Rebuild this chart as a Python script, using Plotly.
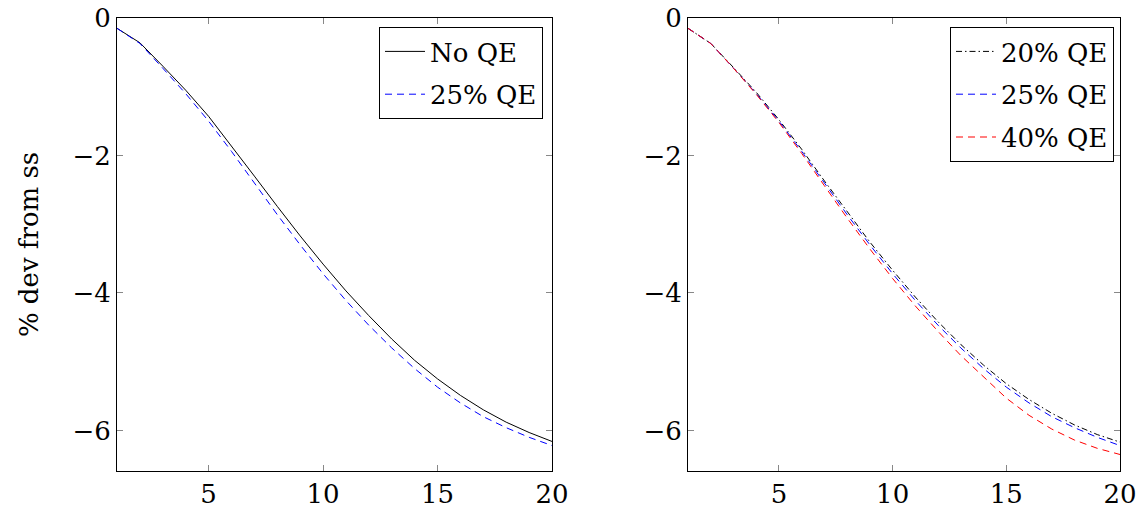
import plotly.graph_objects as go

periods = list(range(1, 21))

no_qe = [-0.15, -0.36, -0.70, -1.05, -1.43, -1.86, -2.30, -2.74, -3.17, -3.58,
         -3.97, -4.33, -4.67, -4.98, -5.25, -5.49, -5.70, -5.88, -6.03, -6.16]
qe25 = [-0.15, -0.37, -0.73, -1.10, -1.50, -1.94, -2.40, -2.86, -3.30, -3.72,
        -4.11, -4.47, -4.80, -5.10, -5.37, -5.60, -5.80, -5.96, -6.10, -6.22]
qe20 = [-0.15, -0.37, -0.72, -1.08, -1.48, -1.91, -2.37, -2.82, -3.26, -3.67,
        -4.06, -4.42, -4.75, -5.05, -5.32, -5.55, -5.75, -5.92, -6.06, -6.17]
qe40 = [-0.15, -0.37, -0.73, -1.11, -1.52, -1.97, -2.44, -2.91, -3.36, -3.79,
        -4.19, -4.56, -4.91, -5.22, -5.53, -5.78, -5.98, -6.14, -6.26, -6.35]

x_ticks = [5, 10, 15, 20]
y_ticks = [0, -2, -4, -6]
y_tick_labels = ["0", "\u22122", "\u22124", "\u22126"]

FONT = "DejaVu Serif"
FS = 26

fig = go.Figure()
fig.add_trace(go.Scatter(x=periods, y=no_qe, mode="lines", name="No QE",
                         line=dict(color="black", width=1), legendgroup="a",
                         xaxis="x", yaxis="y", legend="legend"))
fig.add_trace(go.Scatter(x=periods, y=qe25, mode="lines", name="25% QE",
                         line=dict(color="blue", width=1, dash="7px,5px"), legendgroup="b",
                         xaxis="x", yaxis="y", legend="legend"))
fig.add_trace(go.Scatter(x=periods, y=qe20, mode="lines", name="20% QE",
                         line=dict(color="black", width=1, dash="6px,3px,1.5px,3px"), legendgroup="c",
                         xaxis="x2", yaxis="y2", legend="legend2"))
fig.add_trace(go.Scatter(x=periods, y=qe25, mode="lines", name="25% QE",
                         line=dict(color="blue", width=1, dash="7px,5px"), legendgroup="d",
                         xaxis="x2", yaxis="y2", legend="legend2"))
fig.add_trace(go.Scatter(x=periods, y=qe40, mode="lines", name="40% QE",
                         line=dict(color="red", width=1, dash="7px,5px"), legendgroup="e",
                         xaxis="x2", yaxis="y2", legend="legend2"))

W, H = 1146, 513
ydom = [1 - 471 / H, 1 - 18 / H]

axis_common = dict(showgrid=False, zeroline=False, showline=True, linecolor="black",
                   linewidth=1, mirror="allticks", ticks="inside", ticklen=6,
                   tickcolor="#888888", automargin=False,
                   tickfont=dict(family=FONT, size=FS, color="black"))

fig.update_layout(
    width=W, height=H,
    margin=dict(l=0, r=0, t=0, b=0),
    paper_bgcolor="white", plot_bgcolor="white",
    font=dict(family=FONT, size=FS, color="black"),
    xaxis=dict(domain=[117 / W, 552 / W], range=[1, 20], tickvals=x_ticks, anchor="y", **axis_common),
    yaxis=dict(domain=ydom, range=[-6.59, 0], tickvals=y_ticks, ticktext=y_tick_labels, anchor="x",
               title=dict(text="% dev from ss", font=dict(family=FONT, size=FS), standoff=26),
               **axis_common),
    xaxis2=dict(domain=[688 / W, 1120 / W], range=[1, 20], tickvals=x_ticks, anchor="y2", **axis_common),
    yaxis2=dict(domain=ydom, range=[-6.59, 0], tickvals=y_ticks, ticktext=y_tick_labels, anchor="x2",
                **axis_common),
    legend=dict(x=543 / W, y=1 - 27 / H, xanchor="right", yanchor="top",
                bordercolor="black", borderwidth=1, bgcolor="white",
                font=dict(family=FONT, size=FS), tracegroupgap=6, itemwidth=40),
    legend2=dict(x=1114 / W, y=1 - 27 / H, xanchor="right", yanchor="top",
                 bordercolor="black", borderwidth=1, bgcolor="white",
                 font=dict(family=FONT, size=FS), tracegroupgap=6, itemwidth=40),
)

fig.write_html("out.html")
